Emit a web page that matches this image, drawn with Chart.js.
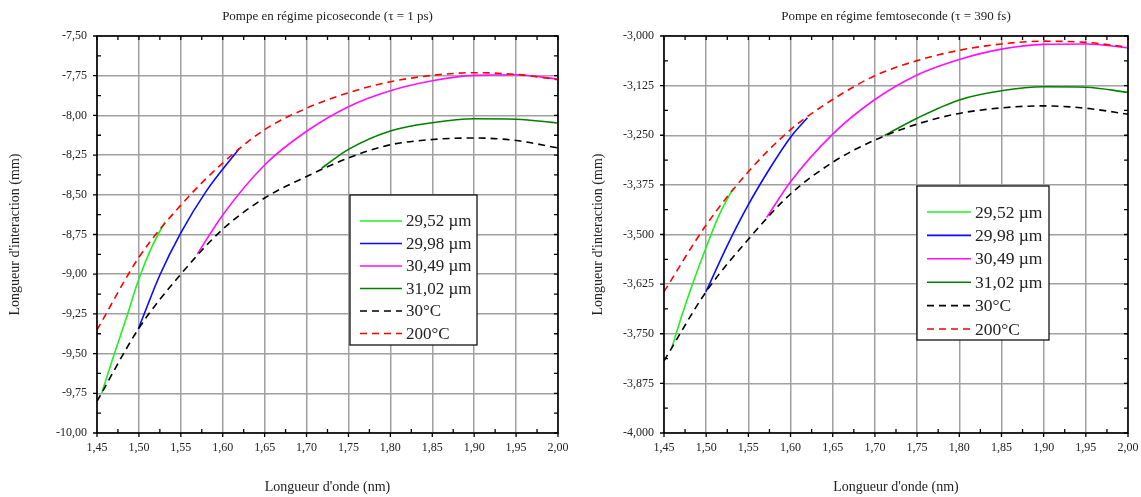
<!DOCTYPE html>
<html>
<head>
<meta charset="utf-8">
<script src="https://cdn.jsdelivr.net/npm/chart.js@4.4.0/dist/chart.umd.min.js"></script>
<style>
  html, body { margin: 0; padding: 0; background: #fff; }
  #page { position: relative; width: 1141px; height: 497px; }
  #page canvas { position: absolute; top: 0; }
</style>
</head>
<body>
<div id="page">
  <canvas id="gPs" width="570" height="497" style="left:0"></canvas>
  <canvas id="gFs" width="571" height="497" style="left:570px"></canvas>
</div>
<script>
// ===== DONNÉES =====
const etiquettes = ["29,52 µm", "29,98 µm", "30,49 µm", "31,02 µm", "30°C", "200°C"];

// régime picoseconde (τ = 1 ps)
const psTitre = "Pompe en régime picoseconde (τ = 1 ps)";
const ps2952x = [1.4556, 1.4695, 1.4854, 1.4993, 1.5153, 1.531];
const ps2952y = [-9.75, -9.52, -9.27, -9.04, -8.83, -8.67];
const ps2998x = [1.4993, 1.51, 1.525, 1.55, 1.58, 1.6195];
const ps2998y = [-9.345, -9.20, -9.005, -8.74, -8.48, -8.21];
const ps3049x = [1.5697, 1.60, 1.65, 1.70, 1.75, 1.80, 1.85, 1.90, 1.95, 2.00];
const ps3049y = [-8.873, -8.627, -8.312, -8.10, -7.945, -7.845, -7.782, -7.748, -7.744, -7.772];
const ps3102x = [1.718, 1.75, 1.80, 1.85, 1.90, 1.95, 2.00];
const ps3102y = [-8.333, -8.214, -8.098, -8.046, -8.021, -8.024, -8.048];
const psTx = [1.45, 1.50, 1.55, 1.60, 1.65, 1.70, 1.75, 1.80, 1.85, 1.90, 1.95, 2.00];
const ps30y = [-9.80, -9.34, -9.00, -8.717, -8.52, -8.385, -8.268, -8.185, -8.152, -8.142, -8.158, -8.205];
const ps200y = [-9.351, -8.894, -8.565, -8.30, -8.09, -7.955, -7.857, -7.788, -7.748, -7.731, -7.742, -7.775];

// régime femtoseconde (τ = 390 fs)
const fsTitre = "Pompe en régime femtoseconde (τ = 390 fs)";
const fs2952x = [1.459, 1.471, 1.485, 1.50, 1.516, 1.532];
const fs2952y = [-3.787, -3.705, -3.618, -3.532, -3.448, -3.384];
const fs2998x = [1.4998, 1.525, 1.55, 1.575, 1.60, 1.62];
const fs2998y = [-3.644, -3.528, -3.425, -3.335, -3.255, -3.206];
const fs3049x = [1.5717, 1.60, 1.65, 1.70, 1.75, 1.80, 1.85, 1.90, 1.95, 2.00];
const fs3049y = [-3.457, -3.367, -3.247, -3.160, -3.098, -3.059, -3.033, -3.021, -3.020, -3.030];
const fs3102x = [1.7118, 1.75, 1.80, 1.85, 1.90, 1.95, 2.00];
const fs3102y = [-3.250, -3.207, -3.161, -3.138, -3.128, -3.129, -3.142];
const fsTx = [1.45, 1.50, 1.55, 1.60, 1.65, 1.70, 1.75, 1.80, 1.85, 1.90, 1.95, 2.00];
const fs30y = [-3.818, -3.644, -3.512, -3.398, -3.318, -3.262, -3.222, -3.195, -3.181, -3.176, -3.182, -3.197];
const fs200y = [-3.644, -3.476, -3.342, -3.236, -3.160, -3.100, -3.062, -3.036, -3.020, -3.013, -3.016, -3.028];

// ===== STYLE =====
const couleurs = ["#22f022", "#0a0aff", "#ff10ff", "#008000", "#000000", "#ff0000"];
const police = "'Liberation Serif', 'DejaVu Serif', serif";
const texte = "#222";

function points(xs, ys) {
  return xs.map((x, i) => ({ x: x, y: ys[i] }));
}

function jeux(series) {
  return series.map((s, i) => ({
    label: etiquettes[i],
    data: points(s[0], s[1]),
    borderColor: couleurs[i],
    backgroundColor: couleurs[i],
    borderWidth: 1.6,
    borderDash: i >= 4 ? [7, 5] : [],
    pointRadius: 0,
    cubicInterpolationMode: "monotone",
    order: i >= 4 ? 0 : 1
  }));
}

const virgule = (v, d) => v.toFixed(d).replace(".", ",");

// pas de marge automatique autour des axes : la zone du graphe est fixée
function sansMarge(s) {
  s.paddingLeft = 0; s.paddingRight = 0;
  s.paddingTop = 0; s.paddingBottom = 0;
}

// ===== CADRE, GRADUATIONS, LÉGENDE =====
const cadre = {
  id: "cadre",
  afterDraw(chart, args, o) {
    const { ctx, chartArea: a, scales: { x, y } } = chart;
    ctx.save();
    ctx.strokeStyle = "#000";
    ctx.lineWidth = 1.3;
    ctx.beginPath();
    x.ticks.forEach((t, i) => {
      const p = x.getPixelForValue(t.value);
      ctx.moveTo(p, a.bottom); ctx.lineTo(p, a.bottom + 4);
      ctx.moveTo(p, a.top); ctx.lineTo(p, a.top + 4);
      if (i < x.ticks.length - 1) {
        const m = x.getPixelForValue((t.value + x.ticks[i + 1].value) / 2);
        ctx.moveTo(m, a.bottom); ctx.lineTo(m, a.bottom - 4);
        ctx.moveTo(m, a.top); ctx.lineTo(m, a.top + 4);
      }
    });
    y.ticks.forEach((t, i) => {
      const p = y.getPixelForValue(t.value);
      ctx.moveTo(a.left, p); ctx.lineTo(a.left - 4, p);
      ctx.moveTo(a.right, p); ctx.lineTo(a.right - 4, p);
      if (i < y.ticks.length - 1) {
        const m = y.getPixelForValue((t.value + y.ticks[i + 1].value) / 2);
        ctx.moveTo(a.left, m); ctx.lineTo(a.left + 4, m);
        ctx.moveTo(a.right, m); ctx.lineTo(a.right - 4, m);
      }
    });
    ctx.stroke();
    ctx.lineWidth = 1.6;
    ctx.strokeRect(a.left, a.top, a.width, a.height);

    // légende
    ctx.fillStyle = "#fff";
    ctx.fillRect(o.x, o.y, o.w, o.h);
    ctx.lineWidth = 1.2;
    ctx.strokeStyle = "#000";
    ctx.strokeRect(o.x, o.y, o.w, o.h);
    ctx.font = o.size + "px " + police;
    ctx.textBaseline = "middle";
    chart.data.datasets.forEach((d, i) => {
      const ly = o.y + o.first + i * o.pas;
      ctx.strokeStyle = d.borderColor;
      ctx.lineWidth = 1.6;
      ctx.setLineDash(d.borderDash);
      ctx.beginPath();
      ctx.moveTo(o.x + o.l0, ly);
      ctx.lineTo(o.x + o.l1, ly);
      ctx.stroke();
      ctx.setLineDash([]);
      ctx.fillStyle = texte;
      ctx.fillText(d.label, o.x + o.tx, ly + 1);
    });
    ctx.restore();
  }
};

function options(titre, yMin, yMax, yPas, dec, gauche, droite, padTitreY, leg) {
  return {
    responsive: false,
    animation: false,
    layout: { padding: { top: 0, right: droite, left: 0, bottom: 0 } },
    plugins: {
      legend: { display: false },
      tooltip: { enabled: false },
      title: {
        display: true, text: titre, fullSize: false, color: texte,
        font: { family: police, size: 13, weight: "normal" },
        padding: { top: 9, bottom: 11.4 }
      },
      cadre: leg
    },
    scales: {
      x: {
        type: "linear", min: 1.45, max: 2.0,
        afterFit: s => { s.height = 64; sansMarge(s); },
        border: { display: false },
        grid: { color: "#a0a0a0", lineWidth: 1.5, drawTicks: false },
        ticks: {
          stepSize: 0.05, padding: 8, maxRotation: 0, color: texte,
          font: { family: police, size: 12 },
          callback: v => virgule(v, 2)
        },
        title: {
          display: true, text: "Longueur d'onde (nm)", color: texte,
          font: { family: police, size: 14 }, padding: { top: 0, bottom: 1.6 }
        }
      },
      y: {
        min: yMin, max: yMax,
        afterFit: s => { s.width = gauche; sansMarge(s); },
        border: { display: false },
        grid: { color: "#a0a0a0", lineWidth: 1.5, drawTicks: false },
        ticks: {
          stepSize: yPas, padding: 10, color: texte,
          font: { family: police, size: 12 },
          callback: v => virgule(v, dec)
        },
        title: {
          display: true, text: "Longueur d'interaction (mm)", color: texte,
          font: { family: police, size: 14 }, padding: { top: padTitreY, bottom: 0 }
        }
      }
    }
  };
}

new Chart(document.getElementById("gPs"), {
  type: "line",
  data: {
    datasets: jeux([
      [ps2952x, ps2952y], [ps2998x, ps2998y], [ps3049x, ps3049y],
      [ps3102x, ps3102y], [psTx, ps30y], [psTx, ps200y]
    ])
  },
  options: options(psTitre, -10, -7.5, 0.25, 2, 97, 12, 6.6,
    { x: 350, y: 195, w: 127, h: 150, first: 26, pas: 22.5, l0: 10, l1: 52, tx: 56, size: 17 }),
  plugins: [cadre]
});

new Chart(document.getElementById("gFs"), {
  type: "line",
  data: {
    datasets: jeux([
      [fs2952x, fs2952y], [fs2998x, fs2998y], [fs3049x, fs3049y],
      [fs3102x, fs3102y], [fsTx, fs30y], [fsTx, fs200y]
    ])
  },
  options: options(fsTitre, -4, -3, 0.125, 3, 94, 13, 19.6,
    { x: 347, y: 186, w: 132, h: 154, first: 26, pas: 23.4, l0: 10, l1: 54, tx: 58, size: 17.5 }),
  plugins: [cadre]
});
</script>
</body>
</html>
